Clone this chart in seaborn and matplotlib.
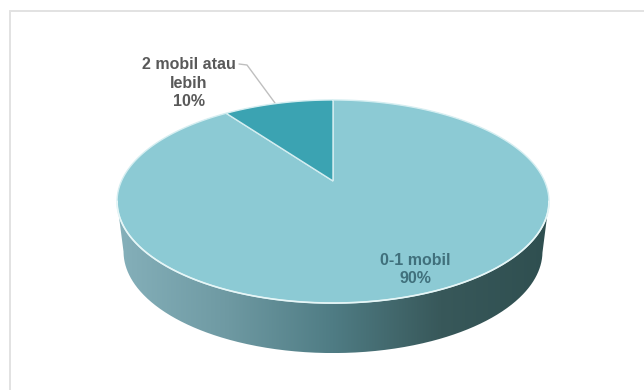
import numpy as np
import matplotlib
matplotlib.use("Agg")
import matplotlib.pyplot as plt
from matplotlib.colors import LinearSegmentedColormap
from matplotlib.patches import PathPatch
from matplotlib.path import Path
from matplotlib.transforms import Transform
import seaborn as sns

categories = ["0-1 mobil", "2 mobil atau\nlebih"]
values = [90, 10]
slice_colors = ["#8CCAD4", "#3BA3B2"]
side_colors = ["#85B0BA", "#6F9AA3", "#4F7C84", "#38585A", "#2F4F50"]
label_colors = ["#40707C", "#595959"]

sns.set_theme(style="white")
plt.rcParams["font.family"] = ["Liberation Sans", "DejaVu Sans"]

CX, CY, A, B, K = 333.0, 181.0, 97.4, 211.5, 0.202
DEPTH, SIDE_SCALE = 50.0, 0.97


class Perspective(Transform):
    input_dims = 2
    output_dims = 2
    has_inverse = False

    def transform_non_affine(self, xy):
        xy = np.asarray(xy, dtype=float)
        w = 1 + K * xy[:, 1]
        return np.column_stack((CX + B * xy[:, 0] / w, CY - A * xy[:, 1] / w))

    def transform_path_non_affine(self, path):
        # Sample each Bezier segment finely so the rim stays smooth
        pts = []
        ts = np.linspace(0, 1, 40)
        for curve, _code in path.iter_bezier():
            pts.append(curve(ts))
        return Path(self.transform_non_affine(np.vstack(pts)), closed=False)


fig = plt.figure(figsize=(6.44, 3.90), dpi=100, facecolor="white")
ax = fig.add_axes([0, 0, 1, 1])

wedges, _ = ax.pie(
    values,
    colors=slice_colors,
    startangle=90,
    counterclock=False,
    wedgeprops={"edgecolor": "#D5EEF1", "linewidth": 1.0},
)
ax.set_aspect("auto")
ax.axis("off")

proj = Perspective()

# The pie's own wedges are re-projected onto the tilted plane
for w in wedges:
    w.set_transform(proj + ax.transData)
    w.set_zorder(3)

# Extruded side, built from the projected rim of the same circle
theta = np.linspace(0, 2 * np.pi, 1441)
rim = proj.transform_non_affine(np.column_stack((np.cos(theta), np.sin(theta))))
left_i, right_i = rim[:, 0].argmin(), rim[:, 0].argmax()
lower = rim[rim[:, 1] >= rim[[left_i, right_i], 1].min() - 0.5]
lower = lower[np.argsort(lower[:, 0])]
offset = lower.copy()
offset[:, 0] = CX + (offset[:, 0] - CX) * SIDE_SCALE
offset[:, 1] += DEPTH
outline = np.vstack((lower, offset[::-1], lower[:1]))
clip = PathPatch(Path(outline), transform=ax.transData, facecolor="none", edgecolor="none")
ax.add_patch(clip)

cmap = LinearSegmentedColormap.from_list("side", side_colors)
xmin, xmax = lower[:, 0].min(), lower[:, 0].max()
ymin, ymax = lower[:, 1].min(), offset[:, 1].max()
im = ax.imshow(
    np.linspace(0, 1, 256)[None, :],
    cmap=cmap,
    aspect="auto",
    extent=(xmin, xmax, ymax, ymin),
    zorder=2,
)
im.set_clip_path(clip)
ax.set_xlim(0, 644)
ax.set_ylim(390, 0)

# Pale highlight along the front rim
ax.plot(lower[:, 0], lower[:, 1], color="#E6F6F7", lw=1.2, zorder=4)

# Frame: only the left and top rules are visible
ax.plot([10, 10], [11, 390], color="#E2E2E2", lw=1.4, zorder=1)
ax.plot([10, 644], [11, 11], color="#E2E2E2", lw=1.4, zorder=1)

# Labels
ax.text(415, 269.5, f"{categories[0]}\n{values[0]}%", ha="center", va="center",
        fontsize=11.5, fontweight="bold", color=label_colors[0], linespacing=1.3, zorder=5)
ax.text(189, 83, f"{categories[1]}\n{values[1]}%", ha="center", va="center",
        fontsize=11.5, fontweight="bold", color=label_colors[1], linespacing=1.3, zorder=5)
ax.plot([239, 247, 275], [64, 65, 103], color="#BFBFBF", lw=1.0, zorder=2)

fig.savefig("out.png", dpi=100, facecolor="white")
